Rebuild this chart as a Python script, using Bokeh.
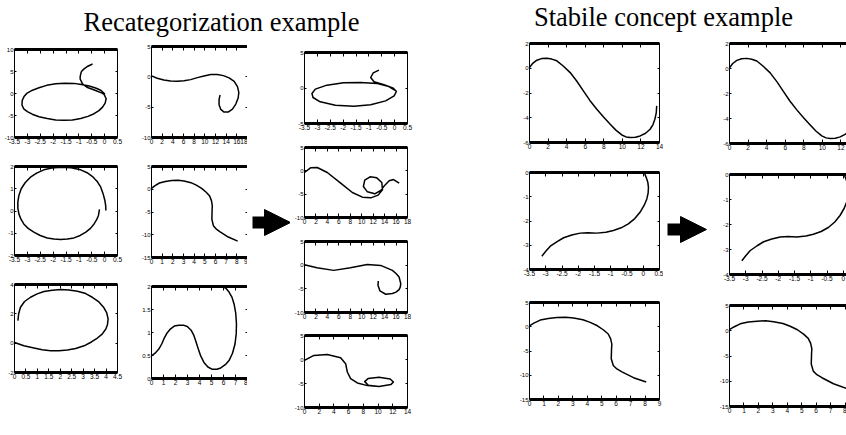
from bokeh.plotting import figure
from bokeh.layouts import row, column
from bokeh.models import (Range1d, LinearAxis, FixedTicker, Label, Spacer, Arrow,
                          NormalHead, NumeralTickFormatter)
from bokeh.embed import file_html
from bokeh.resources import INLINE

# ---------------- data ----------------
TITLE_LEFT = "Recategorization example"
TITLE_RIGHT = "Stabile concept example"
EXP_LABEL = "x10\u2074"

# Recategorization, column 1
L1_x = [-0.47, -0.65, -0.80, -0.90, -0.93, -0.95, -0.95, -0.90, -0.86, -0.75, -0.64, -0.45, -0.28,
        -0.12, -0.02, 0.06, 0.02, -0.08, -0.22, -0.41, -0.65, -0.93, -1.25, -1.58, -1.90, -2.23,
        -2.55, -2.81, -3.00, -3.14, -3.21, -3.20, -3.13, -3.01, -2.80, -2.55, -2.25, -1.90, -1.55,
        -1.19, -0.90, -0.60, -0.35, -0.15, 0.01]
L1_y = [6.7, 6.2, 5.6, 5.0, 4.4, 3.8, 3.3, 2.7, 2.2, 1.7, 1.3, 0.9, 0.5,
        0.15, -0.2, -1.2, -2.2, -3.1, -3.9, -4.6, -5.2, -5.7, -6.0, -6.1, -6.0, -5.7,
        -5.3, -4.7, -4.1, -3.5, -2.6, -1.6, -0.7, 0.1, 0.75, 1.3, 1.85, 2.2, 2.35,
        2.3, 2.05, 1.7, 1.25, 0.75, -0.1]
L1_xticks = [-3.5, -3, -2.5, -2, -1.5, -1, -0.5, 0, 0.5]
L1_yticks = [-10, -5, 0, 5, 10]

L2_x = [0.05, 0.04, 0.01, -0.06, -0.15, -0.29, -0.47, -0.68, -0.93, -1.30, -1.71, -2.05, -2.36,
        -2.64, -2.88, -3.08, -3.24, -3.33, -3.37, -3.37, -3.33, -3.25, -3.14, -2.97, -2.75, -2.50,
        -2.23, -1.97, -1.71, -1.45, -1.19, -0.95, -0.73, -0.55, -0.41, -0.31, -0.24, -0.20]
L2_y = [0.02, 0.25, 0.47, 0.78, 1.07, 1.33, 1.55, 1.72, 1.85, 1.94, 1.97, 1.93, 1.85,
        1.70, 1.52, 1.28, 1.00, 0.70, 0.40, 0.13, -0.13, -0.37, -0.58, -0.78, -0.95, -1.10,
        -1.21, -1.26, -1.28, -1.26, -1.21, -1.10, -0.95, -0.78, -0.58, -0.39, -0.20, 0.07]
L2_xticks = [-3.5, -3, -2.5, -2, -1.5, -1, -0.5, 0, 0.5]
L2_yticks = [-2, -1, 0, 1, 2]

L3_x = [0.15, 0.18, 0.26, 0.44, 0.70, 0.99, 1.29, 1.65, 2.02, 2.38, 2.75, 3.11, 3.40, 3.67, 3.89,
        4.03, 4.09, 4.06, 3.99, 3.83, 3.62, 3.36, 3.04, 2.67, 2.31, 1.94, 1.58, 1.21, 0.85, 0.41, 0.0]
L3_y = [1.54, 1.99, 2.45, 2.84, 3.13, 3.36, 3.52, 3.61, 3.66, 3.63, 3.54, 3.38, 3.13, 2.84, 2.45,
        2.06, 1.65, 1.26, 0.97, 0.62, 0.35, 0.08, -0.18, -0.36, -0.47, -0.52, -0.52, -0.45, -0.33,
        -0.18, 0.05]
L3_xticks = [0, 0.5, 1, 1.5, 2, 2.5, 3, 3.5, 4, 4.5]
L3_yticks = [-2, 0, 2, 4]

# Recategorization, column 2
M1_x = [0, 1.07, 2.32, 3.58, 4.83, 6.09, 7.34, 8.59, 9.85, 11.1, 12.36, 13.49, 14.55, 15.5, 16.12,
        16.37, 16.25, 15.81, 15.18, 14.37, 13.61, 12.99, 12.67, 12.67, 12.86]
M1_y = [0.15, -0.24, -0.52, -0.68, -0.74, -0.63, -0.46, -0.13, 0.15, 0.37, 0.37, 0.2, -0.18, -0.74,
        -1.62, -2.56, -3.49, -4.49, -5.31, -5.81, -5.81, -5.37, -4.6, -3.71, -3.0]
M1_xticks = [0, 2, 4, 6, 8, 10, 12, 14, 16, 18]
M1_yticks = [-10, -5, 0, 5]

S_x = [0, 0.3, 0.74, 1.3, 1.9, 2.5, 3.05, 3.7, 4.2, 4.7, 5.13, 5.45, 5.62, 5.7, 5.68, 5.66, 5.8,
       6.05, 6.4, 7.2, 8.08]
S_y = [0.2, 0.75, 1.37, 1.72, 1.9, 1.98, 1.8, 1.45, 0.9, 0.2, -0.67, -1.5, -2.5, -3.6, -4.6, -6.6,
       -8.0, -8.7, -9.3, -10.5, -11.4]
S_xticks = [0, 1, 2, 3, 4, 5, 6, 7, 8, 9]
S_yticks = [-15, -10, -5, 0, 5]

M3_x = [0, 0.3, 0.61, 0.85, 1.03, 1.3, 1.59, 1.9, 2.28, 2.65, 2.98, 3.3, 3.54, 3.72, 3.9, 4.1,
        4.37, 4.7, 5.07, 5.45, 5.77, 6.15, 6.46, 6.75, 6.96, 7.06, 7.08, 7.02, 6.88, 6.7, 6.46,
        6.2, 5.91]
M3_y = [0.49, 0.55, 0.64, 0.75, 0.86, 0.99, 1.08, 1.14, 1.16, 1.16, 1.13, 1.05, 0.93, 0.79, 0.64,
        0.49, 0.35, 0.25, 0.2, 0.2, 0.23, 0.3, 0.39, 0.55, 0.75, 0.97, 1.19, 1.42, 1.62, 1.77,
        1.88, 1.96, 2.0]
M3_xticks = [0, 1, 2, 3, 4, 5, 6, 7, 8]
M3_yticks = [0, 0.5, 1, 1.5, 2]

# Recategorization, result column
R1_x = [-0.61, -0.83, -0.93, -0.80, -0.41, -0.05, 0.07, -0.02, -0.35, -0.93, -1.58, -2.30, -2.89,
        -3.17, -3.21, -3.08, -2.63, -1.98, -1.32, -0.67, -0.22, 0.0]
R1_y = [2.51, 2.14, 1.48, 0.87, 0.45, -0.02, -0.49, -1.10, -1.81, -2.37, -2.56, -2.42, -1.95,
        -1.34, -0.77, -0.16, 0.40, 0.73, 0.77, 0.63, 0.21, -0.31]
R1_xticks = [-3.5, -3, -2.5, -2, -1.5, -1, -0.5, 0, 0.5]
R1_yticks = [-5, 0, 5]

R2_x = [0, 1.05, 2.22, 3.98, 6.32, 8.36, 10.12, 11.58, 12.87, 13.63, 13.51, 12.63, 11.46, 10.53,
        10.29, 10.99, 12.28, 13.33, 14.04, 14.8, 15.56, 16.55]
R2_y = [-0.36, 0.64, 0.71, -0.36, -2.64, -4.64, -5.64, -5.79, -5.21, -4.07, -2.5, -1.5, -1.29, -2.0,
        -3.36, -4.5, -4.93, -4.21, -3.07, -2.14, -1.86, -2.64]
R2_xticks = [0, 2, 4, 6, 8, 10, 12, 14, 16, 18]
R2_yticks = [-10, -5, 0, 5]

R3_x = [0, 2.17, 5.1, 8.03, 10.96, 13.31, 15.36, 16.0, 16.53, 16.82, 16.75, 16.53, 16.0, 15.36, 14.19,
        13.19, 12.84, 12.9]
R3_y = [0.09, -0.54, -1.1, -0.54, 0.16, -0.05, -1.1, -1.75, -2.5, -3.9, -4.6, -5.16, -5.7, -6.0, -6.14,
        -5.44, -4.25, -3.34]
R3_xticks = [0, 2, 4, 6, 8, 10, 12, 14, 16, 18]
R3_yticks = [-10, -5, 0, 5]

R4_x = [0, 1.27, 3.09, 4.91, 5.59, 5.82, 6.27, 7.18, 8.55, 10.14, 11.73, 12.09, 11.64, 10.14, 8.64,
        8.18, 8.68, 10.14]
R4_y = [-0.18, 0.85, 1.06, 0.37, -0.87, -2.6, -3.98, -4.88, -5.44, -5.64, -5.23, -4.68, -4.05, -3.71,
        -3.98, -4.61, -5.37, -5.64]
R4_xticks = [0, 2, 4, 6, 8, 10, 12, 14]
R4_yticks = [-10, -5, 0, 5]

# Stabile concept
A1_x = [0, 0.35, 0.79, 1.3, 1.87, 2.4, 2.94, 3.6, 4.38, 5.1, 5.8, 6.5, 7.25, 8.0, 8.69, 9.3, 9.94,
        10.4, 10.84, 11.4, 11.92, 12.5, 12.99, 13.3, 13.5, 13.65, 13.7]
A1_y = [0.06, 0.4, 0.65, 0.78, 0.81, 0.74, 0.6, 0.2, -0.35, -1.05, -1.83, -2.6, -3.31, -3.96, -4.52,
        -5.0, -5.39, -5.55, -5.6, -5.58, -5.47, -5.25, -4.93, -4.55, -4.12, -3.6, -3.04]
A1_xticks = [0, 2, 4, 6, 8, 10, 12, 14]
A1_yticks = [-6, -4, -2, 0, 2]

A2_x = [-3.12, -3.0, -2.86, -2.65, -2.45, -2.2, -1.94, -1.7, -1.43, -1.15, -0.92, -0.68, -0.46,
        -0.26, -0.1, 0.03, 0.11, 0.15, 0.16, 0.14, 0.09, 0.03]
A2_y = [-3.45, -3.25, -3.04, -2.85, -2.69, -2.58, -2.5, -2.48, -2.5, -2.46, -2.39, -2.28, -2.12,
        -1.9, -1.64, -1.35, -1.09, -0.85, -0.61, -0.4, -0.2, 0]
A2_xticks = [-3.5, -3, -2.5, -2, -1.5, -1, -0.5, 0, 0.5]
A2_yticks = [-4, -3, -2, -1, 0]

TICK_FONT = "Liberation Sans"
BL = 14  # left border of every panel


def make_axis(ticks, line_w, tick_in, labels, size):
    kw = dict(ticker=FixedTicker(ticks=list(ticks)),
              formatter=NumeralTickFormatter(format="0.[0]"),
              axis_line_width=line_w, axis_line_color="black",
              major_tick_in=tick_in, major_tick_out=0,
              major_tick_line_color="black", major_tick_line_width=1,
              minor_tick_line_color=None,
              major_label_text_font=TICK_FONT)
    if labels:
        kw.update(major_label_text_color="black", major_label_text_font_size=size,
                  major_label_standoff=1)
    else:
        kw.update(major_label_text_color=None, major_label_text_font_size="1px",
                  major_label_standoff=0)
    return LinearAxis(**kw)


def panel(xs, ys, xt, yt, fw, fh, br, bt, bb, xr=None, right=True, exps=()):
    x0, x1 = xr if xr else (xt[0], xt[-1])
    xt_vis = [t for t in xt if x0 - 1e-9 <= t <= x1 + 1e-9]
    p = figure(frame_width=fw, frame_height=fh,
               x_range=Range1d(x0, x1), y_range=Range1d(yt[0], yt[-1]),
               output_backend="svg", toolbar_location=None,
               x_axis_location=None, y_axis_location=None,
               min_border_left=BL, min_border_right=br,
               min_border_top=bt, min_border_bottom=bb)
    p.outline_line_color = None
    p.grid.visible = False
    p.add_layout(make_axis(xt_vis, 3, 4, True, "6.5px"), "below")
    p.add_layout(make_axis(xt_vis, 3, 4, False, "6.5px"), "above")
    p.add_layout(make_axis(yt, 1, 2, True, "6px"), "left")
    if right:
        p.add_layout(make_axis(yt, 1, 2, False, "6px"), "right")
    p.line(xs, ys, line_color="black", line_width=1.5, line_join="round")
    for e in exps:
        if e == "tl":
            x, y = -3, fh + 2
        elif e == "tr":
            x, y = fw - 12, fh + 2
        else:  # bottom right, offset below the frame
            x, y = fw - 12, -int(e[2:])
        p.add_layout(Label(x=x, y=y, x_units="screen", y_units="screen", text=EXP_LABEL,
                           text_font=TICK_FONT, text_font_size="5px", text_color="black"))
    return p


def arrow_fig(w, h, xs, xe, yy):
    p = figure(width=w, height=h, x_range=Range1d(0, w), y_range=Range1d(0, h),
               output_backend="svg", toolbar_location=None,
               x_axis_location=None, y_axis_location=None, min_border=0)
    p.outline_line_color = None
    p.grid.visible = False
    p.add_layout(Arrow(end=NormalHead(size=26, fill_color="black", line_color="black"),
                       x_start=xs, y_start=yy, x_end=xe, y_end=yy,
                       line_width=12, line_color="black"))
    return p


def title_fig(w, h, text, cx, cy):
    p = figure(width=w, height=h, x_range=Range1d(0, w), y_range=Range1d(0, h),
               output_backend="svg", toolbar_location=None,
               x_axis_location=None, y_axis_location=None, min_border=0)
    p.outline_line_color = None
    p.grid.visible = False
    p.add_layout(Label(x=cx, y=cy, text=text, text_font="Liberation Serif",
                       text_font_size="26.5px", text_align="center",
                       text_baseline="middle", text_color="black"))
    return p


# ---- left group ----
pL1 = panel(L1_x, L1_y, L1_xticks, L1_yticks, 103, 88, 20, 9, 16, exps=("tl",))
pL2 = panel(L2_x, L2_y, L2_xticks, L2_yticks, 103, 89, 20, 13, 16, exps=("tl", "tr"))
pL3 = panel(L3_x, L3_y, L3_xticks, L3_yticks, 103, 88, 20, 13, 40, exps=("tl", "tr", "br24"))

pM1 = panel(M1_x, M1_y, M1_xticks, M1_yticks, 96, 91, 0, 6, 16, exps=("tl",))
pM2 = panel(S_x, S_y, S_xticks, S_yticks, 96, 91, 0, 13, 16, exps=("tl", "tr"))
pM3 = panel(M3_x, M3_y, M3_xticks, M3_yticks, 96, 92, 0, 13, 35, exps=("tl", "tr", "br23"))

arrow1 = arrow_fig(43, 200, 5, 43, 18)

pR1 = panel(R1_x, R1_y, R1_xticks, R1_yticks, 103, 71, 33, 12, 12, exps=("tl",))
pR2 = panel(R2_x, R2_y, R2_xticks, R2_yticks, 103, 70, 33, 12, 12, exps=("tl", "tr"))
pR3 = panel(R3_x, R3_y, R3_xticks, R3_yticks, 103, 71, 33, 12, 12, exps=("tl", "tr"))
pR4 = panel(R4_x, R4_y, R4_xticks, R4_yticks, 103, 72, 33, 11, 25, exps=("tl", "tr", "br19"))

t_left = title_fig(440, 40, TITLE_LEFT, 221, 19)

left = column(t_left,
              row(column(pL1, pL2, pL3), column(pM1, pM2, pM3),
                  arrow1, column(pR1, pR2, pR3, pR4)))

# ---- right group ----
pA1 = panel(A1_x, A1_y, A1_xticks, A1_yticks, 130, 99, 4, 8, 14, exps=("tl",))
pA2 = panel(A2_x, A2_y, A2_xticks, A2_yticks, 130, 97, 4, 16, 14, exps=("tl", "tr"))
pA3 = panel(S_x, S_y, S_xticks, S_yticks, 130, 97, 4, 19, 30, exps=("tl", "tr", "br26"))

arrow2 = arrow_fig(52, 210, 4, 43, 16)

pB1 = panel(A1_x, A1_y, A1_xticks, A1_yticks, 117, 100, 0, 8, 14, xr=(0, 12.6), right=False,
            exps=("tl",))
pB2 = panel(A2_x, A2_y, A2_xticks, A2_yticks, 117, 100, 0, 17, 14, xr=(-3.5, 0.1), right=False,
            exps=("tl",))
pB3 = panel(S_x, S_y, S_xticks, S_yticks, 117, 101, 0, 17, 20, xr=(0, 8.1), right=False,
            exps=("tl",))

t_right = title_fig(406, 35, TITLE_RIGHT, 223, 19)

right = column(t_right,
               row(Spacer(width=75, height=10), column(pA1, pA2, pA3), arrow2,
                   column(pB1, pB2, pB3)))

layout = row(left, right)

with open("out.html", "w") as f:
    f.write(file_html(layout, INLINE))
